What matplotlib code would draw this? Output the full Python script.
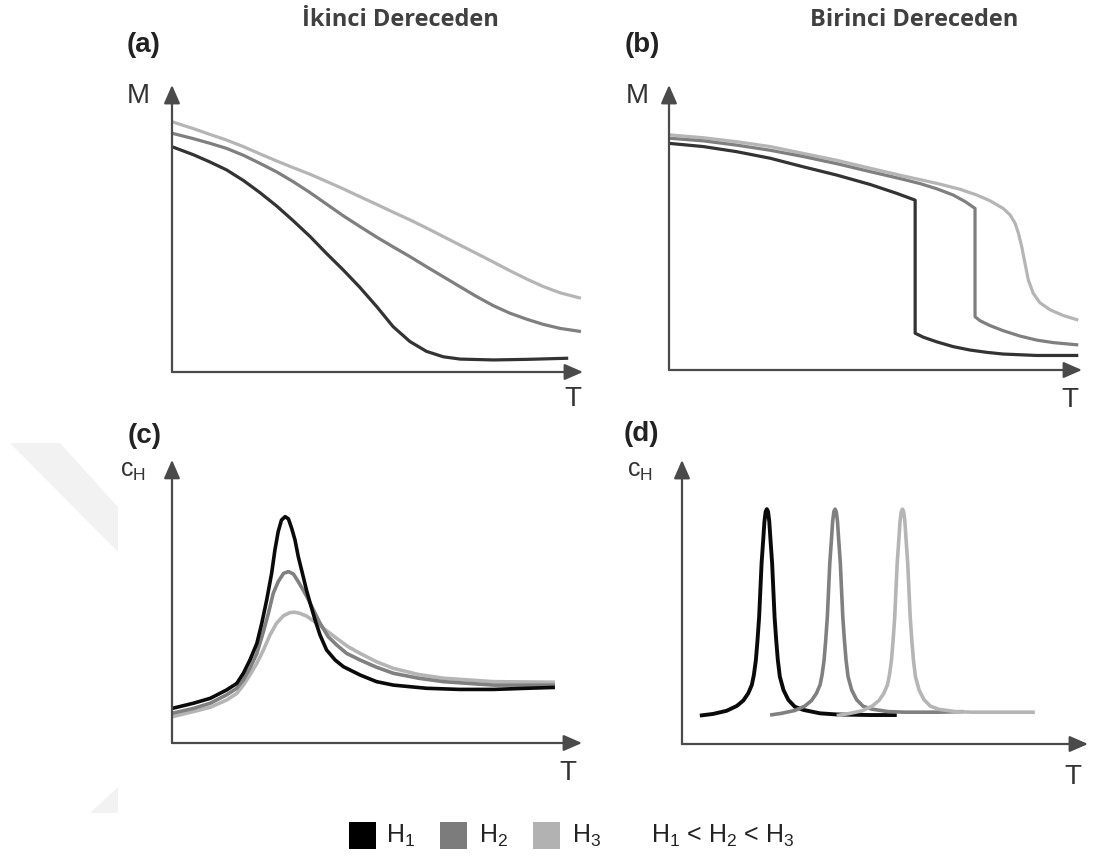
import matplotlib
matplotlib.use("Agg")
import matplotlib.pyplot as plt
from matplotlib.patches import Rectangle, Polygon

plt.rcParams['font.family'] = ['Liberation Sans', 'DejaVu Sans']
plt.rcParams['mathtext.fontset'] = 'custom'
plt.rcParams['mathtext.rm'] = 'Liberation Sans'
plt.rcParams['mathtext.it'] = 'Liberation Sans'

# ---- data (T and response in arbitrary units, 0-100) ----
# (a) second order: magnetisation
t_a1 = [0, 5.2, 9.2, 13.3, 17.4, 21.4, 25.5, 29.5, 33.6, 37.6, 41.7, 45.7, 49.8,
        53.8, 57.9, 61.9, 66.0, 70.1, 78.2, 86.3, 96.4]
m_a1 = [78.5, 75.7, 73.2, 70.4, 66.7, 62.5, 57.8, 52.7, 47.2, 41.3, 35.5, 29.5, 22.8,
        15.8, 10.6, 7.2, 5.3, 4.5, 4.2, 4.4, 4.8]
t_a2 = [0, 5.2, 9.2, 13.3, 17.4, 21.4, 25.5, 29.5, 33.6, 37.6, 41.7, 45.7, 49.8,
        53.8, 57.9, 61.9, 66.0, 70.1, 74.1, 78.2, 82.2, 86.3, 90.3, 94.4, 99.5]
m_a2 = [83.2, 81.3, 79.7, 77.9, 75.5, 72.7, 69.7, 66.3, 62.5, 58.5, 54.4, 50.7, 47.0,
        43.6, 40.2, 36.7, 33.2, 29.7, 26.3, 23.1, 20.5, 18.4, 16.6, 15.2, 14.1]
t_a3 = t_a2
m_a3 = [87.2, 84.8, 82.8, 80.8, 78.5, 76.0, 73.5, 71.2, 68.9, 66.4, 63.8, 61.1, 58.4,
        55.7, 53.0, 50.2, 47.2, 44.2, 41.3, 38.3, 35.3, 32.4, 29.8, 27.6, 25.7]

# (b) first order: magnetisation
t_b1 = [0.2, 8.3, 16.4, 24.5, 32.5, 40.6, 48.7, 55.1, 59.6, 59.6, 61.6, 64.8, 68.8,
        72.9, 76.9, 80.9, 89.0, 99.1]
m_b1 = [79.5, 78.4, 76.6, 74.3, 71.3, 68.4, 65.1, 62.0, 59.6, 12.9, 11.5, 9.9, 8.2,
        7.0, 6.2, 5.6, 5.1, 5.1]
t_b2 = [0.2, 8.3, 16.4, 24.5, 32.5, 40.6, 48.7, 56.7, 60.8, 64.8, 68.8, 71.7, 74.1,
        74.1, 75.3, 77.7, 80.9, 85.0, 89.0, 93.1, 99.1]
m_b2 = [81.3, 80.4, 78.9, 77.1, 74.9, 72.4, 69.6, 66.9, 65.4, 63.6, 61.4, 59.1, 56.7,
        18.7, 17.3, 15.6, 13.8, 11.9, 10.5, 9.6, 8.8]
t_b3 = [0.2, 8.3, 16.4, 24.5, 32.5, 40.6, 48.7, 56.7, 64.8, 70.5, 74.5, 77.7, 80.9,
        82.6, 83.8, 84.6, 85.4, 86.2, 87.0, 88.2, 89.8, 92.3, 95.5, 99.1]
m_b3 = [82.5, 81.5, 80.1, 78.4, 76.0, 73.6, 70.8, 68.1, 65.5, 63.4, 61.4, 59.4, 56.7,
        54.4, 51.5, 48.0, 43.3, 37.4, 31.6, 26.9, 23.6, 21.1, 19.1, 17.5]

# (c) second order: heat capacity
t_c1 = [0, 5.2, 9.3, 13.3, 15.8, 17.4, 19.0, 20.7, 21.9, 23.1, 24.3, 25.1, 25.9, 26.7,
        27.6, 28.4, 29.2, 30.0, 30.8, 32.0, 32.8, 33.7, 34.9, 36.1, 37.7, 39.8, 41.8,
        45.9, 49.9, 54.0, 62.1, 70.2, 78.4, 86.5, 93.4]
c_c1 = [12.0, 13.8, 15.5, 18.4, 20.7, 24.2, 28.8, 34.6, 41.6, 49.7, 58.9, 67.0, 73.4,
        77.4, 78.6, 77.8, 74.5, 70.5, 64.7, 57.8, 53.1, 48.5, 42.7, 37.5, 32.3, 28.8,
        26.5, 23.6, 21.3, 20.1, 19.0, 18.6, 18.6, 19.0, 19.3]
t_c2 = [0, 5.2, 9.3, 13.3, 15.8, 17.4, 19.0, 20.7, 22.3, 23.5, 24.7, 25.9, 27.2, 28.4,
        29.6, 30.8, 32.0, 33.3, 34.5, 36.1, 38.1, 40.2, 42.6, 45.9, 49.9, 54.0, 60.1,
        66.2, 78.4, 93.4]
c_c2 = [10.3, 12.0, 13.8, 16.7, 19.0, 21.9, 25.9, 31.1, 38.7, 45.0, 52.0, 56.0, 58.9,
        59.5, 58.7, 56.0, 53.1, 49.7, 46.2, 41.6, 36.9, 34.0, 31.1, 28.8, 26.3, 24.2,
        22.5, 21.3, 20.1, 20.1]
t_c3 = [0, 5.2, 9.3, 13.3, 15.8, 17.4, 19.0, 20.7, 22.3, 23.9, 25.5, 27.2, 28.8, 30.0,
        31.2, 32.8, 35.3, 37.7, 40.2, 43.0, 45.9, 49.9, 54.0, 60.1, 66.2, 78.4, 93.4]
c_c3 = [9.1, 10.9, 12.4, 14.9, 17.2, 20.1, 23.6, 27.7, 32.3, 37.5, 41.6, 44.2, 45.3,
        45.4, 45.0, 44.1, 41.6, 39.0, 36.3, 33.4, 31.1, 28.2, 25.9, 23.8, 22.5, 21.3, 21.1]

# (d) first order: heat capacity
t_d1 = [4.4, 7.7, 11.0, 13.5, 15.1, 16.3, 17.2, 17.7, 18.2, 18.6, 19.0, 19.3, 19.6,
        20.0, 20.3, 20.6, 20.9, 21.2, 21.5, 21.8, 22.2, 22.5, 22.8, 23.2, 23.6, 24.1,
        25.0, 26.2, 27.8, 29.9, 34.0, 38.1, 46.3, 52.9]
c_d1 = [10.0, 10.6, 11.7, 13.4, 15.3, 17.8, 20.8, 24.3, 29.6, 36.6, 44.8, 54.2, 63.6,
        71.8, 78.3, 81.8, 82.7, 81.8, 78.3, 71.8, 63.6, 54.2, 44.8, 36.6, 29.6, 23.7,
        19.0, 15.5, 13.1, 12.0, 10.8, 10.4, 10.2, 10.2]
t_d2 = [21.7, 24.5, 27.8, 30.3, 31.9, 33.1, 34.0, 34.5, 35.0, 35.4, 35.8, 36.1, 36.4,
        36.8, 37.1, 37.4, 37.7, 38.0, 38.3, 38.6, 39.0, 39.3, 39.6, 40.0, 40.4, 40.9,
        41.8, 43.0, 44.6, 46.7, 50.8, 54.9, 63.1, 69.3]
c_d2 = [10.2, 10.8, 11.8, 13.4, 15.3, 17.8, 20.8, 24.3, 29.6, 36.6, 44.8, 54.2, 63.6,
        71.8, 78.3, 81.8, 82.7, 81.8, 78.3, 71.8, 63.6, 54.2, 44.8, 36.6, 29.6, 23.7,
        19.0, 15.6, 13.3, 12.3, 11.4, 11.2, 11.2, 11.4]
t_d3 = [38.1, 41.1, 44.4, 46.9, 48.5, 49.7, 50.6, 51.1, 51.6, 52.0, 52.4, 52.7, 53.0,
        53.4, 53.7, 54.0, 54.3, 54.6, 54.9, 55.2, 55.6, 55.9, 56.2, 56.6, 57.0, 57.5,
        58.4, 59.6, 61.2, 63.3, 67.4, 71.5, 79.7, 86.9]
c_d3 = [10.0, 10.7, 11.7, 13.4, 15.3, 17.8, 20.8, 24.3, 29.6, 36.6, 44.8, 54.2, 63.6,
        71.8, 78.3, 81.8, 82.7, 81.8, 78.3, 71.8, 63.6, 54.2, 44.8, 36.6, 29.6, 23.7,
        19.0, 15.6, 13.3, 12.2, 11.4, 11.2, 11.2, 11.2]

legend_labels = ['H$_1$', 'H$_2$', 'H$_3$']
legend_colors = ['#000000', '#7c7c7c', '#b2b2b2']

W, H = 1093, 861
fig = plt.figure(figsize=(W / 100, H / 100), dpi=100)


def px(x, y):
    return x / W, 1 - y / H


def panel(x0, y0, xtip, ytip, ytop=1.0):
    ax = fig.add_axes([x0 / W, 1 - y0 / H, (xtip - x0) / W, (y0 - ytip) / H])
    ax.set_xlim(0, 100)
    ax.set_ylim(0, 100)
    ax.axis('off')
    kw = dict(arrowstyle='-|>,head_length=0.8,head_width=0.35', mutation_scale=14,
              color='#4a4a4a', lw=1.6, shrinkA=0, shrinkB=0)
    ax.annotate('', xy=(1, 0), xytext=(0, 0), xycoords='axes fraction', arrowprops=kw)
    ax.annotate('', xy=(0, ytop), xytext=(0, 0), xycoords='axes fraction', arrowprops=kw)
    return ax


def curve(ax, t, v, color, lw=2.3):
    ax.plot(t, v, color=color, lw=lw, clip_on=False, solid_joinstyle='round',
            solid_capstyle='butt')


# watermark
fig.patches.append(Polygon([px(10, 443), px(60, 443), px(118, 507), px(118, 552)],
                           closed=True, transform=fig.transFigure, fc='#f2f2f2', ec='none'))
fig.patches.append(Polygon([px(90, 813), px(118, 787), px(118, 813)],
                           closed=True, transform=fig.transFigure, fc='#f2f2f2', ec='none'))

ax_a = panel(172, 372, 583, 85)
curve(ax_a, t_a3, m_a3, '#b5b5b5')
curve(ax_a, t_a2, m_a2, '#7f7f7f')
curve(ax_a, t_a1, m_a1, '#333333')

ax_b = panel(669, 370, 1082, 85)
curve(ax_b, t_b3, m_b3, '#b5b5b5')
curve(ax_b, t_b2, m_b2, '#7f7f7f')
curve(ax_b, t_b1, m_b1, '#333333')

ax_c = panel(172, 743, 582, 455, ytop=0.983)
curve(ax_c, t_c3, c_c3, '#b5b5b5', 2.6)
curve(ax_c, t_c2, c_c2, '#808080', 2.6)
curve(ax_c, t_c1, c_c1, '#0a0a0a', 2.6)

ax_d = panel(682, 744, 1088, 460)
curve(ax_d, t_d1, c_d1, '#0a0a0a', 2.8)
curve(ax_d, t_d2, c_d2, '#808080', 2.6)
curve(ax_d, t_d3, c_d3, '#b5b5b5', 2.6)

# titles
tkw = dict(family=['Open Sans', 'DejaVu Sans'], fontweight='bold', fontsize=17,
           color='#404040', ha='center', va='center')
fig.text(*px(400, 20), 'İkinci Dereceden', **tkw)
fig.text(*px(914, 20), 'Birinci Dereceden', **tkw)

# panel letters and axis labels
lkw = dict(fontsize=20, fontweight='bold', color='#222222', ha='center', va='center')
fig.text(*px(144, 45), '(a)', **lkw)
fig.text(*px(642, 45), '(b)', **lkw)
fig.text(*px(145, 436), '(c)', **lkw)
fig.text(*px(641, 434), '(d)', **lkw)

akw = dict(fontsize=20, color='#333333', ha='center', va='center')
fig.text(*px(138, 96), 'M', **akw)
fig.text(*px(637, 96), 'M', **akw)
fig.text(*px(573, 399), 'T', **akw)
fig.text(*px(1070, 400), 'T', **akw)
fig.text(*px(568, 773), 'T', **akw)
fig.text(*px(1073, 777), 'T', **akw)
ckw = dict(fontsize=18, color='#333333', ha='center', va='center')
fig.text(*px(133, 471), 'c$_\\mathrm{H}$', **ckw)
fig.text(*px(640, 471), 'c$_\\mathrm{H}$', **ckw)

# legend
sq_x = [349, 440, 533]
tx_x = [386, 479, 572]
for sx, tx, lab, col in zip(sq_x, tx_x, legend_labels, legend_colors):
    x, y = px(sx, 849)
    fig.patches.append(Rectangle((x, y), 27 / W, 27 / H, transform=fig.transFigure,
                                 fc=col, ec='none'))
    fig.text(*px(tx, 836), lab, fontsize=18, color='#222222', ha='left', va='center')
fig.text(*px(651, 836), 'H$_1$ < H$_2$ < H$_3$', fontsize=18, color='#222222',
         ha='left', va='center')

fig.savefig('out.png', dpi=100)
